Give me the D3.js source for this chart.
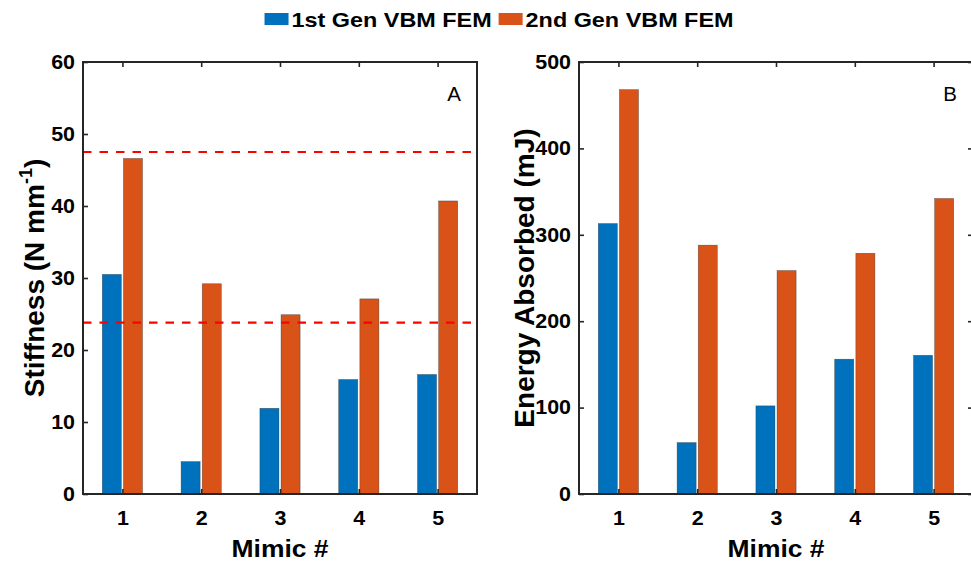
<!DOCTYPE html>
<html>
<head>
<meta charset="utf-8">
<script src="https://cdn.jsdelivr.net/npm/d3@7"></script>
<style>
  body { margin: 0; background: #fff; }
  text { font-family: "Liberation Sans", Arial, sans-serif; }
</style>
</head>
<body>
<div id="viz"></div>
<script>
// data
var mimics = [1, 2, 3, 4, 5];
var seriesNames = ['1st Gen VBM FEM', '2nd Gen VBM FEM'];
var stiffGen1 = [30.5, 4.5, 11.9, 15.9, 16.6];
var stiffGen2 = [46.6, 29.2, 24.9, 27.1, 40.7];
var energyGen1 = [313, 59.5, 102, 156, 160.5];
var energyGen2 = [468, 288, 258.6, 278.6, 342];
var stiffRefLines = [47.5, 23.8];
var stiffTicks = [0, 10, 20, 30, 40, 50, 60];
var energyTicks = [0, 100, 200, 300, 400, 500];

var width = 971, height = 563;
var colors = ['#0072BD', '#D95319'];
var axisColor = '#262626';
var stretch = 1.1;   // glyphs in the figure are a bit wide

var svg = d3.select('#viz').append('svg')
  .attr('width', width)
  .attr('height', height);

var inner = d3.scaleBand()
  .domain(seriesNames)
  .range([-0.255, 0.255])
  .paddingInner(0.1);

function wideText(parent, x, y, str, size, weight, anchor, sx) {
  return parent.append('text')
    .attr('transform', 'translate(' + x + ',' + y + ') scale(' + sx + ',1)')
    .attr('text-anchor', anchor)
    .attr('font-size', size)
    .attr('font-weight', weight)
    .attr('fill', '#000')
    .text(str);
}

function drawPanel(p) {
  var x = d3.scaleLinear().domain([0.5, 5.5]).range([p.left, p.right]);
  var y = d3.scaleLinear().domain(p.yDomain).range([494, 62]);
  var g = svg.append('g');

  // bars
  var rows = mimics.map(function(m, i) {
    return [{m: m, s: seriesNames[0], v: p.gen1[i]}, {m: m, s: seriesNames[1], v: p.gen2[i]}];
  });
  g.selectAll('g.grp').data(rows).join('g').attr('class', 'grp')
    .selectAll('rect').data(function(d) { return d; }).join('rect')
    .attr('x', function(d) { return x(d.m + inner(d.s)); })
    .attr('width', function(d) { return x(d.m + inner(d.s) + inner.bandwidth()) - x(d.m + inner(d.s)); })
    .attr('y', function(d) { return y(d.v); })
    .attr('height', function(d) { return y(0) - y(d.v); })
    .attr('fill', function(d, i) { return colors[i]; })
    .attr('stroke', '#222')
    .attr('stroke-opacity', 0.55)
    .attr('stroke-width', 0.6);

  // reference lines
  g.selectAll('line.ref').data(p.refLines || []).join('line')
    .attr('class', 'ref')
    .attr('x1', x.range()[0]).attr('x2', x.range()[1])
    .attr('y1', function(d) { return y(d); })
    .attr('y2', function(d) { return y(d); })
    .attr('stroke', '#FF0000')
    .attr('stroke-width', 2.2)
    .attr('stroke-dasharray', '8.5,8');

  // axes
  var xb = g.append('g')
    .attr('transform', 'translate(0,' + y(0) + ')')
    .call(d3.axisBottom(x).tickValues(mimics).tickFormat(d3.format('d')).tickSize(-5).tickPadding(17));
  var xt = g.append('g')
    .attr('transform', 'translate(0,' + y.range()[1] + ')')
    .call(d3.axisTop(x).tickValues(mimics).tickFormat('').tickSize(-5));
  var yl = g.append('g')
    .attr('transform', 'translate(' + x.range()[0] + ',0)')
    .call(d3.axisLeft(y).tickValues(p.ticks).tickSize(-5).tickPadding(8));
  var axes = [xb, xt, yl];
  if (p.rightTicks) {
    axes.push(g.append('g')
      .attr('transform', 'translate(' + x.range()[1] + ',0)')
      .call(d3.axisRight(y).tickValues(p.ticks).tickFormat('').tickSize(-5)));
  }
  axes.forEach(function(a) {
    a.select('.domain').remove();
    a.selectAll('line').attr('stroke', axisColor).attr('stroke-width', 1.6);
    a.selectAll('text')
      .attr('font-size', 19.5)
      .attr('font-weight', 'bold')
      .attr('font-family', '"Liberation Sans", Arial, sans-serif')
      .attr('fill', '#000');
  });
  xb.selectAll('text').attr('transform', 'scale(' + stretch + ',1)');
  yl.selectAll('text')
    .attr('x', -8 / stretch)
    .attr('transform', 'scale(' + stretch + ',1)');

  // box
  g.append('rect')
    .attr('x', x.range()[0]).attr('y', y.range()[1])
    .attr('width', x.range()[1] - x.range()[0])
    .attr('height', y.range()[0] - y.range()[1])
    .attr('fill', 'none')
    .attr('stroke', axisColor)
    .attr('stroke-width', 2);

  // panel letter
  wideText(g, x.range()[1] - 23, 100.5, p.letter, 19.5, 'normal', 'middle', 1.05);

  // x title
  wideText(g, (x.range()[0] + x.range()[1]) / 2, 557, 'Mimic #', 23, 'bold', 'middle', 1.15);

  // y title
  var yt = g.append('text')
    .attr('transform', 'translate(' + p.yTitleX + ',' + ((y.range()[0] + y.range()[1]) / 2) + ') rotate(-90)')
    .attr('text-anchor', 'middle')
    .attr('font-size', 28)
    .attr('font-weight', 'bold')
    .attr('fill', '#000');
  p.yTitle(yt);
}

drawPanel({
  left: 83, right: 477,
  yDomain: [0, 60], ticks: stiffTicks,
  gen1: stiffGen1, gen2: stiffGen2,
  refLines: stiffRefLines,
  letter: 'A',
  yTitleX: 44,
  yTitle: function(t) {
    t.append('tspan').text('Stiffness (N mm');
    t.append('tspan').attr('font-size', 18).attr('dy', -12).text('-1');
    t.append('tspan').attr('dy', 12).text(')');
  }
});

drawPanel({
  left: 579, right: 973,
  yDomain: [0, 500], ticks: energyTicks,
  gen1: energyGen1, gen2: energyGen2,
  rightTicks: true,
  letter: 'B',
  yTitleX: 534,
  yTitle: function(t) { t.text('Energy Absorbed (mJ)'); }
});

// legend
var legend = svg.append('g').attr('class', 'legend');
var sw = 24, swH = 12, gapSw = 3, gapItem = 7;
var items = seriesNames.map(function(name, i) {
  var it = legend.append('g');
  it.append('rect').attr('width', sw).attr('height', swH).attr('y', 13).attr('fill', colors[i]);
  var t = wideText(it, sw + gapSw, 26.5, name, 20, 'bold', 'start', 1.17);
  return {g: it, w: sw + gapSw + t.node().getComputedTextLength() * 1.17};
});
var total = d3.sum(items, function(d) { return d.w; }) + gapItem * (items.length - 1);
var cx = 265 + (733 - 265) / 2;
var pos = cx - total / 2;
items.forEach(function(it) {
  it.g.attr('transform', 'translate(' + pos + ',0)');
  pos += it.w + gapItem;
});
</script>
</body>
</html>
